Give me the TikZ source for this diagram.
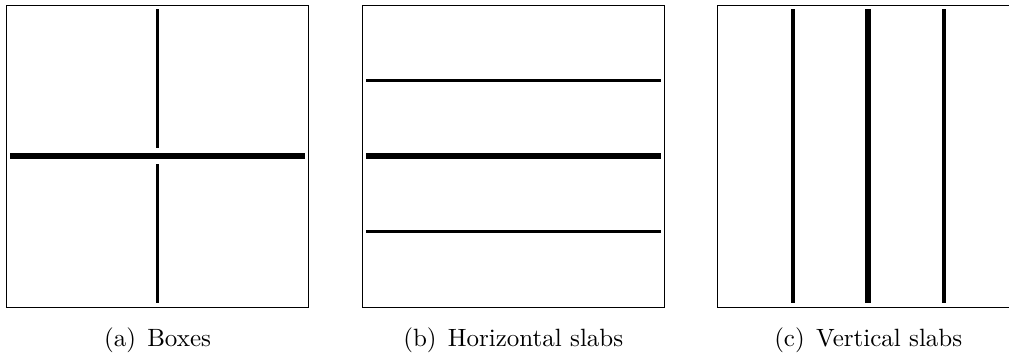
\documentclass[tikz,border=0pt]{standalone}
\usetikzlibrary{positioning}

\begin{document}
\begin{tikzpicture}[
  x=1pt,y=-1pt,
  panel/.style={draw,line width=0.8pt,minimum width=302.5pt,minimum height=302pt,inner sep=0pt,outer sep=0pt},
  slab/.style={line width=3.8pt},
  midslab/.style={line width=6pt},
  caption/.style={font=\normalsize,scale=2.5,inner sep=0pt}
]
  \useasboundingbox (0,0) rectangle (1009,354);
  \clip (0,0) rectangle (1009,354);

  \node[panel] (A) at (157.5,156) {};
  \node[panel,right=53.25pt of A] (B) {};
  \node[panel,right=52.5pt of B] (C) {};

  \node[caption,below=39pt of A.south,anchor=base] (capA) {(a)\hspace{4.5pt}Boxes};
  \node[caption,below=39pt of B.south,anchor=base] (capB) {(b)\hspace{4.5pt}Horizontal slabs};
  \node[caption,below=39pt of C.south,anchor=base] (capC) {(c)\hspace{4.5pt}Vertical slabs};

  % boxes
  \draw[midslab] ([xshift=4pt]A.west) -- ([xshift=-4pt]A.east);
  \draw[slab] ([yshift=-4pt]A.north) -- ([yshift=8pt]A.center);
  \draw[slab] ([yshift=-8pt]A.center) -- ([yshift=4pt]A.south);

  % horizontal slabs
  \foreach \dy/\w in {75.5/slab,0/midslab,-75.5/slab}
    \draw[\w] ([shift={(4pt,\dy pt)}]B.west) -- ([shift={(-4pt,\dy pt)}]B.east);

  % vertical slabs
  \foreach \dx/\w in {-75.5/slab,0/midslab,75.5/slab}
    \draw[\w] ([shift={(\dx pt,-4pt)}]C.north) -- ([shift={(\dx pt,4pt)}]C.south);
\end{tikzpicture}
\end{document}
